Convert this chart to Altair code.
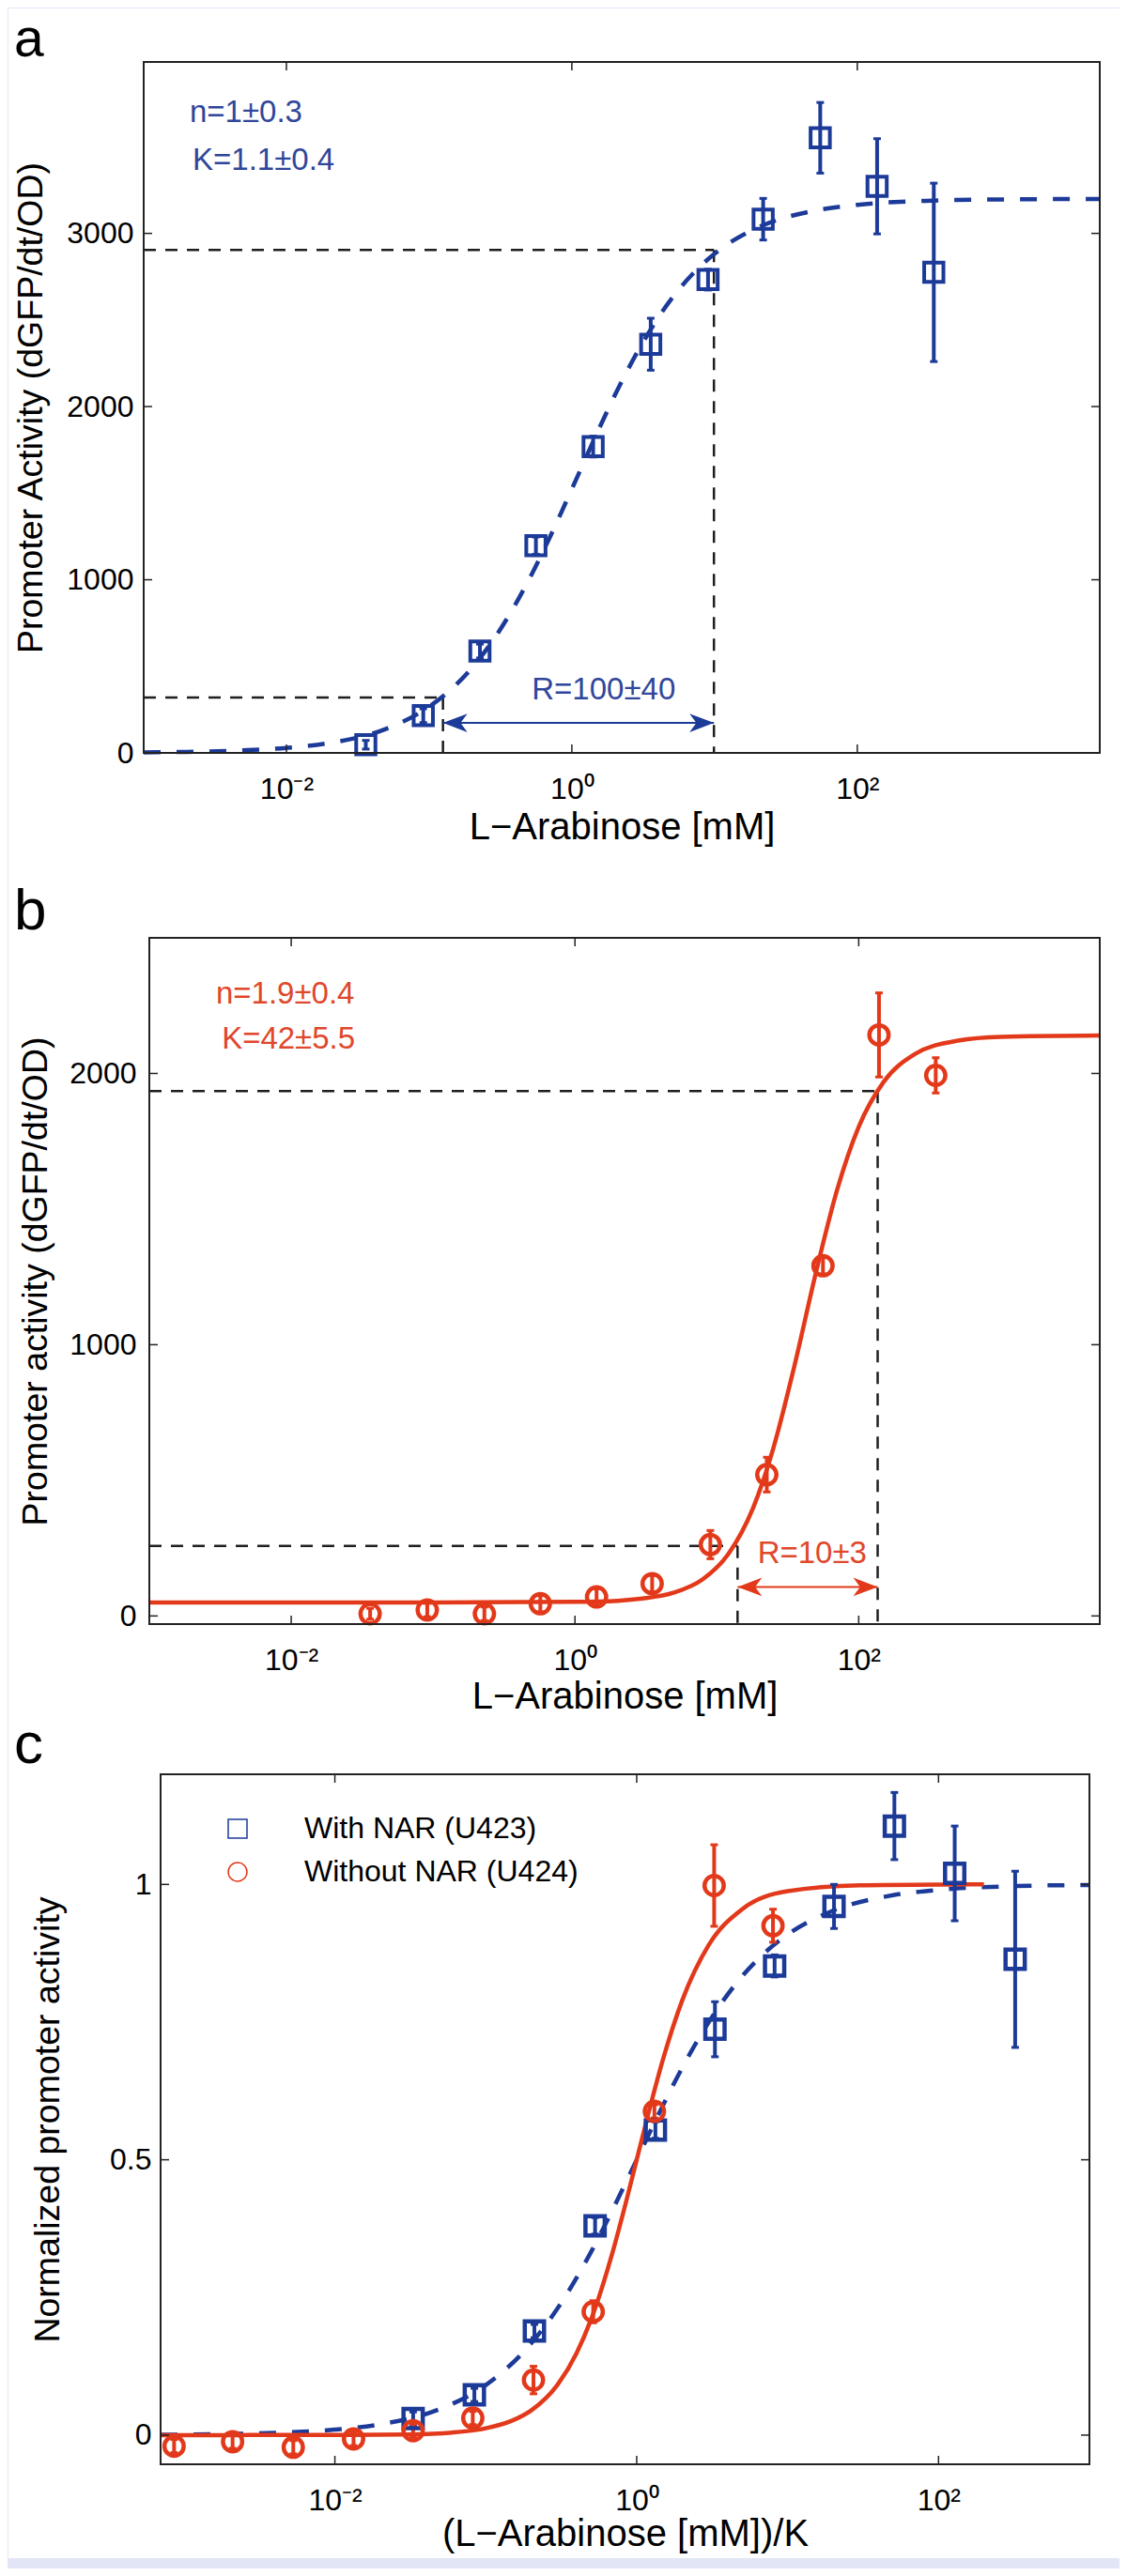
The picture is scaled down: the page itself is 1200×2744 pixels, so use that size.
import altair as alt
import pandas as pd

FONT = "Liberation Sans"
BLUE = "#1c3a98"
BLUE_TEXT = "#30469a"
RED = "#e3391b"
RED_TEXT = "#e0472b"
INK = "#222222"
GUIDE = "#1e1e1e"
LAVENDER = "#e2e5f6"

x_ticks = [0.01, 1, 100]

# ---------------- panel a : with NAR (U423) ----------------
a_conc = [0.036, 0.091, 0.227, 0.56, 1.41, 3.57, 9.0, 21.9, 55.0, 137.7, 343.6]
a_act = [47, 215, 588, 1197, 1769, 2360, 2733, 3082, 3552, 3272, 2775]
a_err = [25, 40, 40, 50, 60, 150, 60, 120, 204, 275, 515]
a_fit_conc = [0.001, 0.002, 0.005, 0.01, 0.02, 0.05, 0.1, 0.2, 0.3, 0.5, 0.7, 1, 1.5,
              2, 3, 5, 7, 10, 20, 50, 100, 300, 1000, 5000]
a_fit_act = [3, 6, 15, 29, 57, 139, 267, 492, 686, 1000, 1244, 1524, 1846,
             2065, 2341, 2623, 2765, 2883, 3033, 3131, 3165, 3188, 3196, 3199]
a_levels = [320, 2905]
a_bounds = [0.125, 9.9]
a_arrow_level = 173
a_param_text = ["n=1±0.3", "K=1.1±0.4"]
a_param_x = [0.0021, 0.0022]
a_param_y = [3697, 3421]
a_range_text = ["R=100±40"]
a_range_x = [1.67]
a_range_y = [363]
a_yticks = [0, 1000, 2000, 3000]

# ---------------- panel b : without NAR (U424) ----------------
b_conc = [0.036, 0.091, 0.23, 0.57, 1.42, 3.5, 9.0, 22.5, 56, 139, 349]
b_act = [8, 22, 8, 45, 70, 119, 263, 521, 1291, 2142, 1993]
b_err = [20, 25, 25, 30, 30, 30, 52, 64, 30, 155, 65]
b_fit_conc = [0.001, 0.01, 0.1, 1, 2, 3, 5, 8, 12, 18, 25, 35, 50, 70, 100, 150,
              250, 500, 1000, 5000]
b_fit_act = [50, 50, 50, 52, 56, 64, 86, 136, 227, 398, 618, 916, 1267, 1566, 1803,
             1969, 2072, 2121, 2135, 2140]
b_levels = [258, 1935]
b_bounds = [14, 136]
b_arrow_level = 107
b_param_text = ["n=1.9±0.4", "K=42±5.5"]
b_param_x = [0.00295, 0.00324]
b_param_y = [2292, 2126]
b_range_text = ["R=10±3"]
b_range_x = [47]
b_range_y = [228]
b_yticks = [0, 1000, 2000]

# ---------------- panel c : normalized ----------------
series_names = ["With NAR (U423)", "Without NAR (U424)"]
c_blue_x = [0.033, 0.084, 0.21, 0.53, 1.33, 3.3, 8.2, 20.3, 51, 128, 322]
c_blue_y = [0.030, 0.073, 0.189, 0.380, 0.554, 0.737, 0.852, 0.960, 1.106, 1.020, 0.864]
c_blue_err = [0.012, 0.012, 0.012, 0.015, 0.015, 0.05, 0.02, 0.04, 0.061, 0.086, 0.16]
c_red_x = [0.00086, 0.0021, 0.0053, 0.0133, 0.033, 0.082, 0.207, 0.515, 1.31, 3.26, 8.0]
c_red_y = [-0.020, -0.012, -0.022, -0.007, 0.008, 0.031, 0.100, 0.224, 0.588, 0.998, 0.925]
c_red_err = [0.012, 0.012, 0.012, 0.012, 0.012, 0.012, 0.025, 0.02, 0.012, 0.074, 0.03]
c_blue_fit_x = [0.0007, 0.002, 0.005, 0.01, 0.02, 0.05, 0.1, 0.2, 0.3, 0.5, 0.7, 1, 1.5,
                2, 3, 5, 7, 10, 20, 50, 100, 300, 1000]
c_blue_fit_y = [0.0007, 0.002, 0.005, 0.0099, 0.0196, 0.0476, 0.0909, 0.1667, 0.2308,
                0.3333, 0.4118, 0.5, 0.6, 0.6667, 0.75, 0.8333, 0.875, 0.9091, 0.9524,
                0.9804, 0.9901, 0.9967, 0.999]
c_red_fit_x = [0.0007, 0.01, 0.03, 0.06, 0.1, 0.15, 0.2, 0.3, 0.4, 0.5, 0.7, 0.85, 1,
               1.2, 1.5, 2, 3, 5, 10, 30, 100, 200]
c_red_fit_y = [0.0, 0.0002, 0.0013, 0.0047, 0.0124, 0.0265, 0.0449, 0.0921, 0.1492,
               0.211, 0.3368, 0.4234, 0.5, 0.5858, 0.684, 0.789, 0.890, 0.955, 0.9876,
               0.9984, 0.9998, 1.0]
c_yticks = [0, 0.5, 1]

panel_letters = ["a", "b", "c"]

LABEL_EXPR = "datum.value < 0.1 ? '10⁻²' : (datum.value < 10 ? '10⁰' : '10²')"


def x_enc(dom, rng, title, tx, ty, offset):
    return alt.X("x", type="quantitative",
                 scale=alt.Scale(type="log", domain=dom, range=rng),
                 axis=alt.Axis(values=x_ticks, labelExpr=LABEL_EXPR, labelFontSize=32,
                               labelPadding=23, title=title, titleFontSize=40,
                               titleX=tx, titleY=ty, titleBaseline="alphabetic",
                               titleAlign="center", offset=offset, zindex=2))


def y_enc(dom, rng, ticks, fmt, title, tx, ty, pad, offset):
    return alt.Y("y", type="quantitative",
                 scale=alt.Scale(domain=dom, range=rng, zero=False, nice=False),
                 axis=alt.Axis(values=ticks, format=fmt, labelFontSize=32,
                               labelPadding=pad, title=title, titleFontSize=37.5,
                               titleX=tx, titleY=ty, titleAngle=270,
                               titleBaseline="alphabetic", titleAlign="center",
                               offset=offset, zindex=2))


def errbar_layers(X, Y, xs, ys, errs, color):
    df = pd.DataFrame({"x": xs, "y": [v - e for v, e in zip(ys, errs)],
                       "y2": [v + e for v, e in zip(ys, errs)]})
    caps = pd.DataFrame({"x": xs + xs,
                         "y": [v - e for v, e in zip(ys, errs)] + [v + e for v, e in zip(ys, errs)]})
    bar = alt.Chart(df).mark_rule(color=color, strokeWidth=4).encode(x=X, y=Y, y2=alt.Y2("y2"))
    cap = alt.Chart(caps).mark_tick(color=color, orient="horizontal", size=8, thickness=3,
                                    opacity=1).encode(x=X, y=Y)
    return [bar, cap]


def frame_layers(X, Y, yticks, x0, x1, H):
    xt = pd.DataFrame({"x": x_ticks})
    yt = pd.DataFrame({"y": yticks})
    one = pd.DataFrame({"k": [0]})
    return [
        alt.Chart(xt).mark_rule(color=INK, strokeWidth=1.5).encode(x=X, y=alt.value(H), y2=alt.value(H - 9)),
        alt.Chart(xt).mark_rule(color=INK, strokeWidth=1.5).encode(x=X, y=alt.value(0), y2=alt.value(9)),
        alt.Chart(yt).mark_rule(color=INK, strokeWidth=1.5).encode(y=Y, x=alt.value(x0), x2=alt.value(x0 + 9)),
        alt.Chart(yt).mark_rule(color=INK, strokeWidth=1.5).encode(y=Y, x=alt.value(x1), x2=alt.value(x1 - 9)),
        alt.Chart(one).mark_rect(fillOpacity=0, stroke=INK, strokeWidth=2).encode(
            x=alt.value(x0), x2=alt.value(x1), y=alt.value(0), y2=alt.value(H)),
    ]


def guide_layers(X, Y, xmin, ymin, levels, bounds, arrow_level, color):
    g = pd.DataFrame({"x": [xmin, bounds[1], xmin, bounds[0]],
                      "x2": [bounds[1], bounds[1], bounds[0], bounds[0]],
                      "y": [levels[1], levels[1], levels[0], levels[0]],
                      "y2": [levels[1], ymin, levels[0], ymin]})
    guides = alt.Chart(g).mark_rule(color=GUIDE, strokeWidth=2.5, strokeDash=[13, 10]).encode(
        x=X, x2=alt.X2("x2"), y=Y, y2=alt.Y2("y2"))
    arr = pd.DataFrame({"x": [bounds[0]], "x2": [bounds[1]], "y": [arrow_level]})
    shaft = alt.Chart(arr).mark_rule(color=color, strokeWidth=2).encode(x=X, x2=alt.X2("x2"), y=Y)
    left = alt.Chart(pd.DataFrame({"x": [bounds[0]], "y": [arrow_level]})).mark_point(
        shape="M0,0L1,-0.38L0.72,0L1,0.38Z", filled=True, size=2704, color=color, opacity=1,
        strokeWidth=0).encode(x=X, y=Y)
    right = alt.Chart(pd.DataFrame({"x": [bounds[1]], "y": [arrow_level]})).mark_point(
        shape="M0,0L-1,-0.38L-0.72,0L-1,0.38Z", filled=True, size=2704, color=color, opacity=1,
        strokeWidth=0).encode(x=X, y=Y)
    return [guides, shaft, left, right]


def text_layers(X, Y, ptext, px, py, rtext, rx, ry, color):
    p = pd.DataFrame({"x": px, "y": py, "t": ptext})
    r = pd.DataFrame({"x": rx, "y": ry, "t": rtext})
    return [
        alt.Chart(p).mark_text(align="left", baseline="middle", fontSize=33, font=FONT,
                               color=color).encode(x=X, y=Y, text="t"),
        alt.Chart(r).mark_text(align="center", baseline="middle", fontSize=33, font=FONT,
                               color=color).encode(x=X, y=Y, text="t"),
    ]


def letter_layer(t, base, size):
    return alt.Chart(pd.DataFrame({"t": [t]})).mark_text(
        align="left", baseline="alphabetic", fontSize=size, font=FONT, color="black"
    ).encode(text="t", x=alt.value(-138), y=alt.value(base))


# ---------- panel a ----------
Xa = x_enc([0.001, 5000], [0, 1018], "L−Arabinose [mM]", 509, 91, -37)
Ya = y_enc([0, 3990], [736, 0], a_yticks, "d", "Promoter Activity (dGFP/dt/OD)", -109, 368, 11, 0)
one = pd.DataFrame({"k": [0]})
bg = [
    alt.Chart(one).mark_rect(color=LAVENDER).encode(
        x=alt.value(-145), x2=alt.value(1039), y=alt.value(-58), y2=alt.value(2670)),
    alt.Chart(one).mark_rect(color="white").encode(
        x=alt.value(-144), x2=alt.value(1039), y=alt.value(-57), y2=alt.value(2659)),
]
a_fit = alt.Chart(pd.DataFrame({"x": a_fit_conc, "y": a_fit_act})).mark_line(
    color=BLUE, strokeWidth=4.5, strokeDash=[18, 17], interpolate="monotone").encode(x=Xa, y=Ya)
a_pts = alt.Chart(pd.DataFrame({"x": a_conc, "y": a_act})).mark_point(
    shape="square", filled=False, size=420, strokeWidth=4, color=BLUE, opacity=1).encode(x=Xa, y=Ya)
panel_a = alt.layer(
    *bg,
    letter_layer(panel_letters[0], -6, 57),
    *guide_layers(Xa, Ya, 0.001, 0, a_levels, a_bounds, a_arrow_level, BLUE),
    a_fit,
    *errbar_layers(Xa, Ya, a_conc, a_act, a_err, BLUE),
    a_pts,
    *text_layers(Xa, Ya, a_param_text, a_param_x, a_param_y, a_range_text, a_range_x, a_range_y, BLUE_TEXT),
    *frame_layers(Xa, Ya, a_yticks, 0, 1018, 736),
).properties(width=1018, height=773)

# ---------- panel b ----------
Xb = x_enc([0.001, 5000], [6, 1018], "L−Arabinose [mM]", 512, 89, 0)
Yb = y_enc([-30, 2500], [731, 0], b_yticks, "d", "Promoter activity (dGFP/dt/OD)", -110, 365.5, 14, -6)
b_fit = alt.Chart(pd.DataFrame({"x": b_fit_conc, "y": b_fit_act})).mark_line(
    color=RED, strokeWidth=4.5, interpolate="monotone").encode(x=Xb, y=Yb)
b_pts = alt.Chart(pd.DataFrame({"x": b_conc, "y": b_act})).mark_point(
    shape="circle", filled=False, size=420, strokeWidth=4.5, color=RED, opacity=1).encode(x=Xb, y=Yb)
panel_b = alt.layer(
    letter_layer(panel_letters[1], -9, 62),
    *guide_layers(Xb, Yb, 0.001, -30, b_levels, b_bounds, b_arrow_level, RED),
    b_fit,
    *errbar_layers(Xb, Yb, b_conc, b_act, b_err, RED),
    b_pts,
    *text_layers(Xb, Yb, b_param_text, b_param_x, b_param_y, b_range_text, b_range_x, b_range_y, RED_TEXT),
    *frame_layers(Xb, Yb, b_yticks, 6, 1018, 731),
).properties(width=1018, height=731)

# ---------- panel c ----------
Xc = x_enc([0.0007, 1000], [18, 1007], "(L−Arabinose [mM])/K", 512.5, 86, 0)
Yc = y_enc([-0.053, 1.2], [735, 0], c_yticks, "~g", "Normalized promoter activity", -109, 367.5, 10, -18)
c_blue_fit = alt.Chart(pd.DataFrame({"x": c_blue_fit_x, "y": c_blue_fit_y})).mark_line(
    color=BLUE, strokeWidth=4.5, strokeDash=[18, 17], interpolate="monotone").encode(x=Xc, y=Yc)
c_red_fit = alt.Chart(pd.DataFrame({"x": c_red_fit_x, "y": c_red_fit_y})).mark_line(
    color=RED, strokeWidth=4.5, interpolate="monotone").encode(x=Xc, y=Yc)
c_points = pd.DataFrame({
    "x": c_blue_x + c_red_x,
    "y": c_blue_y + c_red_y,
    "series": [series_names[0]] * len(c_blue_x) + [series_names[1]] * len(c_red_x),
})
leg = alt.Legend(orient="none", legendX=84, legendY=1866, direction="vertical", title=None,
                 symbolSize=400, symbolStrokeWidth=1.5, labelFontSize=32, labelFont=FONT,
                 labelColor="black", labelOffset=55, rowPadding=14, padding=0, labelLimit=600)
c_pts = alt.Chart(c_points).mark_point(filled=False, size=420, strokeWidth=4.5, opacity=1).encode(
    x=Xc, y=Yc,
    color=alt.Color("series:N", scale=alt.Scale(domain=series_names, range=[BLUE, RED]), legend=leg),
    shape=alt.Shape("series:N", scale=alt.Scale(domain=series_names, range=["square", "circle"]), legend=leg),
)
panel_c = alt.layer(
    letter_layer(panel_letters[2], -12, 62),
    c_blue_fit,
    c_red_fit,
    *errbar_layers(Xc, Yc, c_blue_x, c_blue_y, c_blue_err, BLUE),
    *errbar_layers(Xc, Yc, c_red_x, c_red_y, c_red_err, RED),
    c_pts,
    *frame_layers(Xc, Yc, c_yticks, 18, 1007, 735),
).properties(width=1007, height=735)

chart = alt.vconcat(panel_a, panel_b, panel_c, spacing=160, bounds="flush").properties(
    padding=0, background=LAVENDER
).configure(font=FONT).configure_view(strokeWidth=0).configure_axis(
    grid=False, domain=False, ticks=False, labelColor="black", titleColor="black",
    titleFontWeight="normal", labelFont=FONT, titleFont=FONT
)

chart.save("out.html", embed_options={"renderer": "svg", "actions": False})
